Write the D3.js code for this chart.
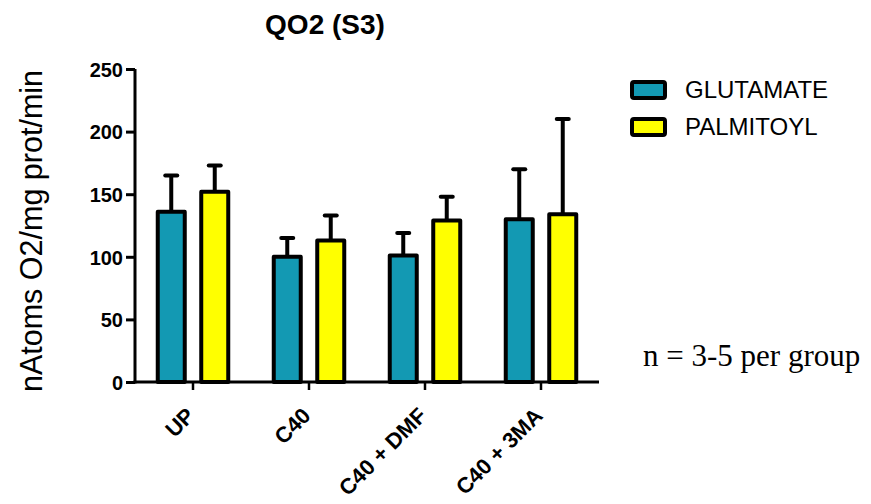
<!DOCTYPE html>
<html><head><meta charset="utf-8">
<script src="https://cdn.jsdelivr.net/npm/d3@7"></script>
<style>body{margin:0;background:#fff}svg{display:block}</style>
</head><body>
<svg id="c" width="871" height="504"></svg>
<script>
const categories = ["UP", "C40", "C40 + DMF", "C40 + 3MA"];
const series = ["GLUTAMATE", "PALMITOYL"];
const glutamateMean = [136, 100, 101, 130];
const glutamateSD = [29, 15, 18, 40];
const palmitoylMean = [152, 113, 129, 134];
const palmitoylSD = [21, 20, 19, 76];
const yTicks = [0, 50, 100, 150, 200, 250];
const colors = ["#1399b3", "#ffff00"];

const values = [glutamateMean, palmitoylMean];
const sds = [glutamateSD, palmitoylSD];

const svg = d3.select("#c");
const x0 = d3.scaleBand().domain(categories).range([135, 599]).padding(0);
const x1 = d3.scaleBand().domain(series).range([20.75, 95.25]).paddingInner(0.287).paddingOuter(0);
const y = d3.scaleLinear().domain([0, 250]).range([382, 69]);

const data = [];
categories.forEach((c, i) => series.forEach((s, j) => data.push({c, s, j, v: values[j][i], sd: sds[j][i]})));

const g = svg.append("g");
g.selectAll("line.err").data(data).join("line")
  .attr("x1", d => x0(d.c) + x1(d.s) + x1.bandwidth()/2)
  .attr("x2", d => x0(d.c) + x1(d.s) + x1.bandwidth()/2)
  .attr("y1", d => y(d.v)).attr("y2", d => y(d.v + d.sd))
  .attr("stroke", "#000").attr("stroke-width", 4);
g.selectAll("line.cap").data(data).join("line")
  .attr("x1", d => x0(d.c) + x1(d.s) + x1.bandwidth()/2 - 6)
  .attr("x2", d => x0(d.c) + x1(d.s) + x1.bandwidth()/2 + 6)
  .attr("y1", d => y(d.v + d.sd)).attr("y2", d => y(d.v + d.sd))
  .attr("stroke", "#000").attr("stroke-width", 4).attr("stroke-linecap", "round");
g.selectAll("rect.bar").data(data).join("rect")
  .attr("x", d => x0(d.c) + x1(d.s) + 2)
  .attr("width", x1.bandwidth() - 4)
  .attr("y", d => y(d.v))
  .attr("height", d => y(0) - y(d.v))
  .attr("fill", d => colors[d.j])
  .attr("stroke", "#000").attr("stroke-width", 4).attr("stroke-linejoin", "round");

const yAxis = svg.append("g").attr("transform", "translate(135,0)")
  .call(d3.axisLeft(y).tickValues(yTicks).tickSize(9).tickPadding(3));
yAxis.select(".domain").attr("stroke-width", 3).attr("d", `M0,${y(250)}V${y(0)+1.5}`);
yAxis.selectAll(".tick line").attr("stroke-width", 3);
yAxis.selectAll(".tick text").attr("font-family", "Liberation Sans, Arial, sans-serif")
  .attr("font-size", 20).attr("font-weight", "bold").attr("fill", "#000").attr("dy", "0.36em");

const xAxis = svg.append("g").attr("transform", `translate(0,${y(0)})`)
  .call(d3.axisBottom(x0).tickSize(8).tickSizeOuter(0));
xAxis.select(".domain").attr("stroke-width", 3).attr("d", `M133.5,0H599`);
xAxis.selectAll(".tick line").attr("stroke-width", 2.5);
xAxis.selectAll(".tick text")
  .attr("font-family", "Liberation Sans, Arial, sans-serif")
  .attr("font-size", 22).attr("font-weight", "bold").attr("fill", "#000")
  .attr("text-anchor", "end").attr("y", 0).attr("dy", 0)
  .attr("transform", "translate(3,35) rotate(-45)");

svg.append("text").attr("x", 325).attr("y", 34).attr("text-anchor", "middle")
  .attr("font-family", "Liberation Sans, Arial, sans-serif").attr("font-size", 28)
  .attr("font-weight", "bold").text("QO2 (S3)");

svg.append("text").attr("transform", "translate(42,231) rotate(-90)").attr("text-anchor", "middle")
  .attr("font-family", "Liberation Sans, Arial, sans-serif").attr("font-size", 30.5)
  .text("nAtoms O2/mg prot/min");

const leg = svg.append("g");
series.forEach((s, j) => {
  leg.append("rect").attr("x", 632).attr("y", 82 + j * 37).attr("width", 33).attr("height", 16)
    .attr("rx", 2).attr("fill", colors[j]).attr("stroke", "#000").attr("stroke-width", 4);
  leg.append("text").attr("x", 685).attr("y", 98 + j * 37)
    .attr("font-family", "Liberation Sans, Arial, sans-serif").attr("font-size", 24).text(s);
});

svg.append("text").attr("x", 643).attr("y", 366)
  .attr("font-family", "Liberation Serif, Times New Roman, serif").attr("font-size", 31)
  .text("n = 3-5 per group");
</script>
</body></html>
